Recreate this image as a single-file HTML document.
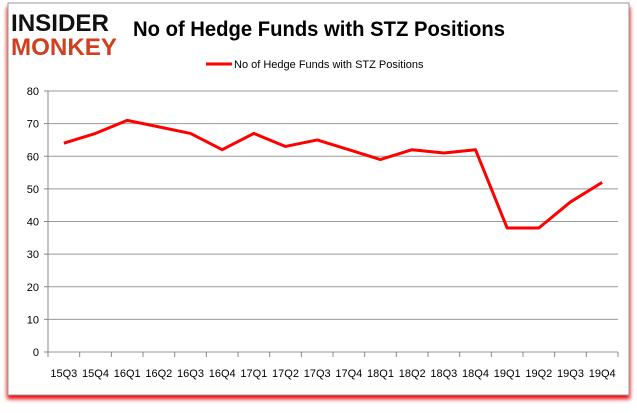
<!DOCTYPE html>
<html><head><meta charset="utf-8"><style>
body{margin:0;background:#fff;width:637px;height:408px;overflow:hidden;font-family:"Liberation Sans",sans-serif}
</style></head><body>
<svg width="637" height="408">
<defs><filter id="sh" x="-5%" y="-5%" width="110%" height="110%"><feGaussianBlur stdDeviation="2"/></filter></defs>
<rect x="7" y="7" width="623" height="392" fill="#e00" filter="url(#sh)"/>
<rect x="8" y="3" width="621" height="392" fill="#fff" stroke="#999"/>
<g>
<text x="11" y="31" font-size="24" font-weight="bold" fill="#111" font-family="Liberation Sans" textLength="98" lengthAdjust="spacingAndGlyphs">INSIDER</text>
<text x="11" y="55" font-size="24" font-weight="bold" fill="#d04020" font-family="Liberation Sans" textLength="106" lengthAdjust="spacingAndGlyphs">MONKEY</text>
</g>
<text x="133" y="36" font-size="21" font-weight="bold" fill="#000" textLength="372" lengthAdjust="spacingAndGlyphs">No of Hedge Funds with STZ Positions</text>
<g>
<line x1="206" y1="64" x2="232" y2="64" stroke="#f00" stroke-width="3"/>
<text x="234" y="68" font-size="11" fill="#000">No of Hedge Funds with STZ Positions</text>
</g>
<g id="axes"></g>
<g id="plot"></g>
</svg>
<script>
const categories=["15Q3","15Q4","16Q1","16Q2","16Q3","16Q4","17Q1","17Q2","17Q3","17Q4","18Q1","18Q2","18Q3","18Q4","19Q1","19Q2","19Q3","19Q4"];
const values=[64,67,71,69,67,62,67,63,65,62,59,62,61,62,38,38,46,52];
const yTicks=[0,10,20,30,40,50,60,70,80];
const ns="http://www.w3.org/2000/svg";
const x0=48,x1=618,y0=352,yTop=91;
const step=(x1-x0)/categories.length;
const xs=i=>x0+step*(i+0.5);
const ys=v=>y0-(v/80)*(y0-yTop);
const axes=document.getElementById('axes'),plot=document.getElementById('plot');
function mk(t,a,p){const e=document.createElementNS(ns,t);for(const k in a)e.setAttribute(k,a[k]);p.appendChild(e);return e;}
yTicks.forEach(v=>{
 const g=mk('line',{x1:x0,x2:x1,y1:ys(v),y2:ys(v),stroke:'#999','stroke-width':1},axes);
 
 
 mk('line',{x1:x0-4,x2:x0,y1:ys(v),y2:ys(v),stroke:'#888'},axes);
 const t=mk('text',{x:x0-9,y:ys(v)+4,'font-size':11,'text-anchor':'end',fill:'#000'},axes);
 t.textContent=v;
 
 
});
mk('line',{x1:x0,x2:x0,y1:yTop,y2:y0,stroke:'#888'},axes);
for(let i=0;i<=categories.length;i++)mk('line',{x1:x0+step*i,x2:x0+step*i,y1:y0,y2:y0+5,stroke:'#888'},axes);
categories.forEach((c,i)=>{
 const t=mk('text',{x:xs(i),y:y0+25,'font-size':11,'text-anchor':'middle',fill:'#000'},axes);
 t.textContent=c;
 
 
});
const p=mk('polyline',{points:values.map((v,i)=>xs(i)+','+ys(v)).join(' '),fill:'none',stroke:'#f00','stroke-width':3,'stroke-linejoin':'round'},plot);


</script>
</body></html>
